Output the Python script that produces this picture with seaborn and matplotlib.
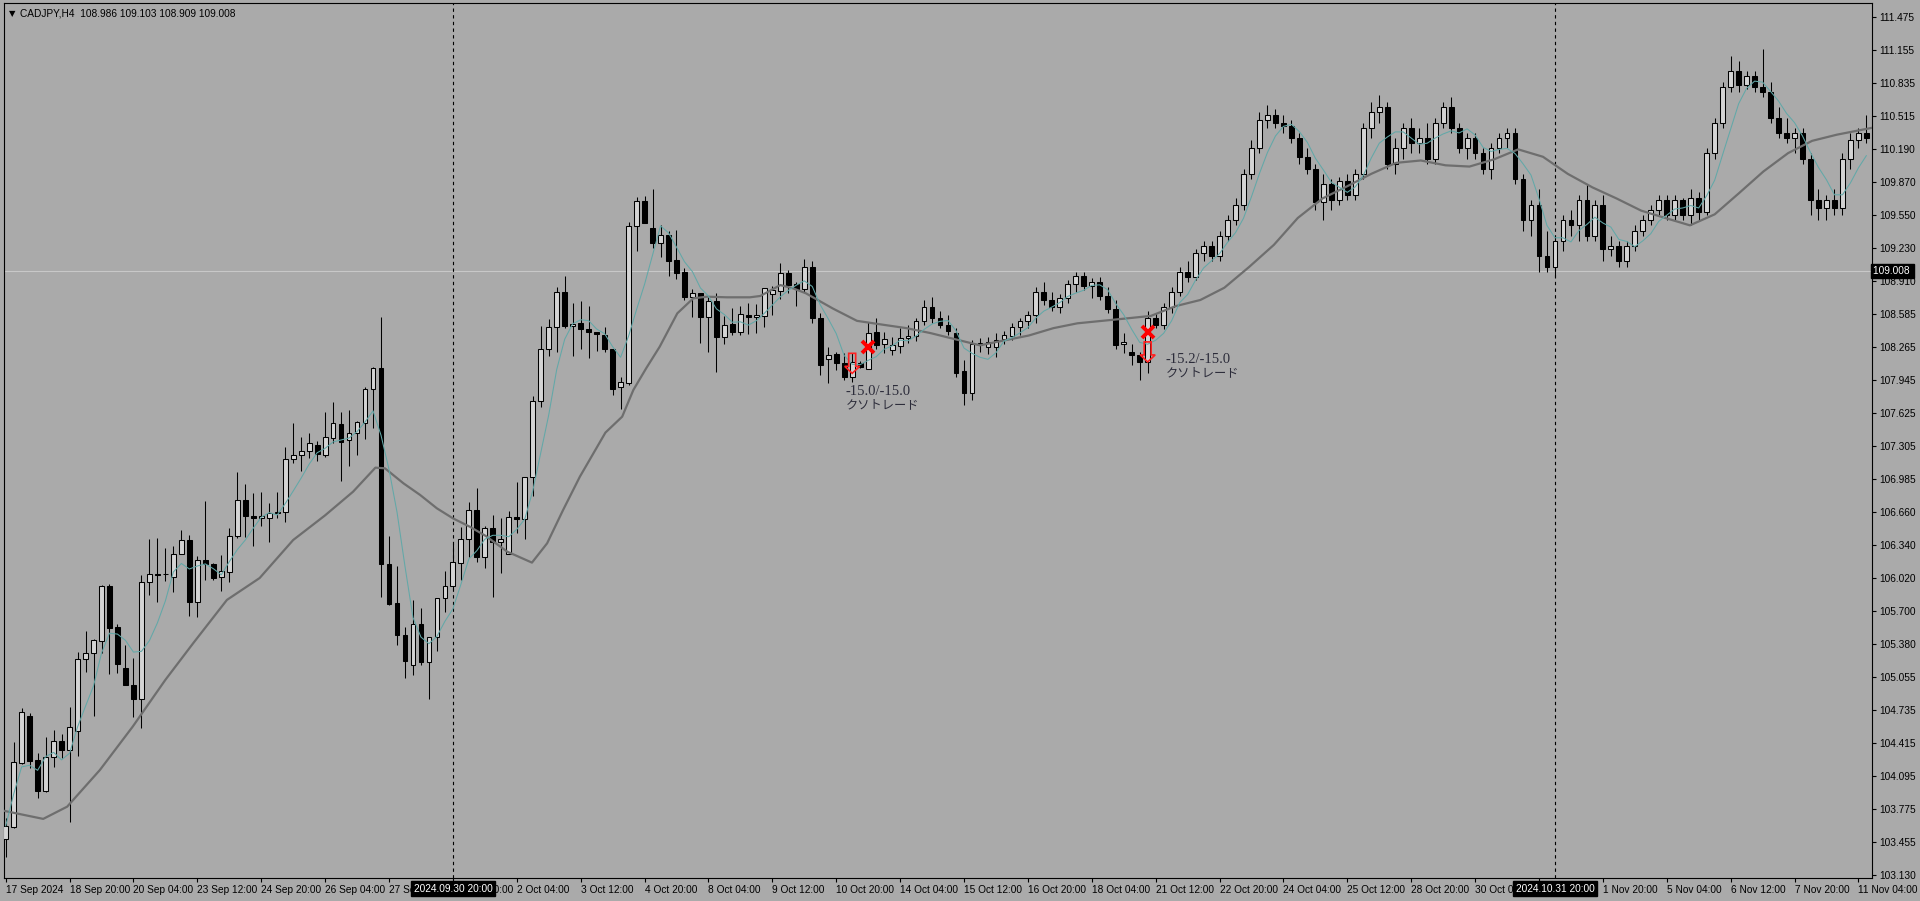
import matplotlib
matplotlib.use('Agg')
import matplotlib.pyplot as plt
import matplotlib.transforms as mtransforms
from matplotlib.patches import Polygon
import numpy as np
import pandas as pd
import seaborn as sns

# CADJPY H4 candles (bar 0 = 17 Sep 12:00)
opens = [
    103.479, 103.602, 104.224, 104.678, 104.250, 103.952, 104.276, 104.435, 104.348, 104.529,
    105.230, 105.288, 105.411, 105.943, 105.541, 105.142, 104.980, 104.841, 105.979, 106.060,
    106.060, 106.027, 106.257, 106.390, 105.790, 106.196, 106.157, 106.033, 106.083, 106.432,
    106.779, 106.627, 106.601, 106.601, 106.656, 106.666, 107.175, 107.214, 107.253, 107.311,
    107.214, 107.379, 107.516, 107.363, 107.428, 107.525, 107.862, 108.064, 106.160, 105.774,
    105.466, 105.174, 105.573, 105.200, 105.450, 105.823, 105.946, 106.163, 106.397, 106.682,
    106.228, 106.504, 106.368, 106.254, 106.617, 106.591, 107.000, 107.739, 108.245, 108.459,
    108.800, 108.472, 108.498, 108.440, 108.417, 108.385, 108.245, 107.875, 107.914, 109.445,
    109.688, 109.422, 109.276, 109.354, 109.114, 108.994, 108.757, 108.790, 108.563, 108.718,
    108.368, 108.488, 108.417, 108.579, 108.556, 108.569, 108.780, 108.815, 108.984, 108.880,
    108.830, 109.050, 108.550, 108.147, 108.200, 108.108, 107.979, 108.115, 108.050, 108.417,
    108.300, 108.238, 108.277, 108.352, 108.370, 108.520, 108.660, 108.550, 108.480, 108.407,
    108.037, 107.823, 108.310, 108.270, 108.270, 108.342, 108.374, 108.460, 108.520, 108.580,
    108.800, 108.720, 108.660, 108.740, 108.880, 108.960, 108.860, 108.900, 108.760, 108.640,
    108.294, 108.223, 108.190, 108.125, 108.550, 108.480, 108.660, 108.800, 109.000, 108.950,
    109.180, 109.250, 109.150, 109.350, 109.500, 109.650, 109.950, 110.200, 110.480, 110.520,
    110.450, 110.420, 110.300, 110.120, 110.000, 109.680, 109.850, 109.700, 109.880, 109.750,
    109.950, 110.400, 110.550, 110.600, 110.050, 110.200, 110.400, 110.250, 110.300, 110.100,
    110.450, 110.600, 110.400, 110.200, 110.300, 110.150, 110.000, 110.200, 110.300, 110.350,
    109.900, 109.500, 109.650, 109.150, 109.050, 109.300, 109.500, 109.450, 109.700, 109.350,
    109.650, 109.220, 109.250, 109.100, 109.250, 109.400, 109.500, 109.600, 109.700, 109.550,
    109.700, 109.550, 109.720, 109.580, 110.150, 110.450, 110.800, 110.950, 110.820, 110.900,
    110.800, 110.750, 110.500, 110.350, 110.300, 110.350, 110.100, 109.700, 109.620, 109.700,
    109.620, 110.100, 110.280, 110.350,
]
highs = [
    103.683, 104.429, 104.759, 104.711, 104.315, 104.471, 104.542, 104.500, 104.769, 105.304,
    105.505, 105.425, 105.953, 105.959, 105.573, 105.369, 105.239, 106.050, 106.400, 106.410,
    106.309, 106.332, 106.487, 106.439, 106.235, 106.773, 106.163, 106.244, 106.504, 107.055,
    106.935, 106.844, 106.857, 106.747, 106.857, 107.292, 107.525, 107.389, 107.428, 107.353,
    107.632, 107.730, 107.632, 107.655, 107.551, 107.875, 108.077, 108.563, 106.429, 106.137,
    105.547, 105.807, 105.726, 105.450, 105.823, 106.089, 106.348, 106.514, 106.757, 106.893,
    106.527, 106.634, 106.601, 106.676, 106.951, 107.000, 107.791, 108.472, 108.537, 108.848,
    108.958, 108.693, 108.715, 108.667, 108.417, 108.459, 108.245, 107.973, 109.480, 109.730,
    109.736, 109.801, 109.454, 109.399, 109.406, 109.033, 108.828, 108.790, 108.751, 108.790,
    108.569, 108.650, 108.666, 108.692, 108.683, 108.838, 108.861, 109.088, 109.017, 108.903,
    109.120, 109.100, 108.600, 108.271, 108.220, 108.210, 108.206, 108.130, 108.514, 108.550,
    108.416, 108.368, 108.449, 108.481, 108.550, 108.720, 108.750, 108.620, 108.580, 108.450,
    108.141, 108.335, 108.352, 108.360, 108.400, 108.420, 108.500, 108.550, 108.620, 108.850,
    108.900, 108.800, 108.780, 108.920, 109.000, 109.000, 108.940, 108.950, 108.850, 108.720,
    108.400, 108.300, 108.220, 108.620, 108.600, 108.700, 108.850, 109.050, 109.100, 109.220,
    109.300, 109.300, 109.400, 109.550, 109.720, 110.000, 110.280, 110.550, 110.620, 110.580,
    110.520, 110.480, 110.350, 110.200, 110.050, 109.950, 109.900, 109.920, 109.950, 110.000,
    110.450, 110.650, 110.720, 110.650, 110.300, 110.450, 110.500, 110.400, 110.450, 110.500,
    110.650, 110.700, 110.450, 110.350, 110.350, 110.200, 110.250, 110.350, 110.400, 110.400,
    109.950, 109.700, 109.800, 109.400, 109.350, 109.550, 109.600, 109.750, 109.850, 109.700,
    109.750, 109.350, 109.300, 109.300, 109.450, 109.550, 109.650, 109.750, 109.750, 109.750,
    109.720, 109.800, 109.780, 110.200, 110.500, 110.850, 111.100, 111.050, 110.950, 110.950,
    111.170, 110.850, 110.600, 110.500, 110.400, 110.400, 110.150, 109.800, 109.750, 109.800,
    110.150, 110.350, 110.400, 110.520,
]
lows = [
    103.307, 103.590, 104.212, 104.169, 103.877, 103.942, 104.185, 104.267, 103.651, 104.293,
    105.110, 104.678, 105.288, 105.087, 105.100, 104.980, 104.672, 104.558, 105.855, 105.791,
    105.995, 105.888, 106.254, 105.651, 105.644, 106.001, 106.001, 105.897, 105.985, 106.406,
    106.416, 106.335, 106.526, 106.374, 106.607, 106.568, 107.136, 107.065, 107.185, 107.162,
    107.201, 107.331, 106.968, 107.113, 107.217, 107.370, 107.477, 105.839, 105.755, 105.369,
    105.045, 105.077, 105.174, 104.840, 105.314, 105.693, 105.904, 106.001, 106.228, 106.180,
    106.115, 105.833, 106.066, 106.254, 106.455, 106.397, 106.818, 107.687, 108.183, 108.222,
    108.449, 108.183, 108.245, 108.158, 108.232, 108.216, 107.798, 107.661, 107.895, 109.205,
    109.470, 109.234, 109.146, 108.961, 108.926, 108.725, 108.556, 108.303, 108.216, 108.021,
    108.294, 108.384, 108.384, 108.391, 108.400, 108.465, 108.579, 108.734, 108.790, 108.666,
    108.800, 108.500, 108.000, 107.914, 108.040, 107.950, 107.930, 108.060, 108.050, 108.250,
    108.206, 108.190, 108.206, 108.303, 108.330, 108.480, 108.500, 108.450, 108.380, 107.980,
    107.703, 107.752, 108.222, 108.200, 108.173, 108.300, 108.340, 108.380, 108.450, 108.500,
    108.680, 108.620, 108.600, 108.700, 108.800, 108.820, 108.740, 108.720, 108.600, 108.250,
    108.206, 108.093, 107.947, 108.012, 108.450, 108.440, 108.600, 108.760, 108.900, 108.920,
    109.100, 109.100, 109.100, 109.300, 109.450, 109.600, 109.900, 110.150, 110.400, 110.400,
    110.350, 110.250, 110.050, 109.950, 109.600, 109.500, 109.600, 109.650, 109.700, 109.700,
    109.900, 110.300, 110.450, 110.000, 109.950, 110.100, 110.150, 110.150, 110.050, 110.050,
    110.400, 110.350, 110.150, 110.100, 110.100, 109.950, 109.900, 110.150, 110.200, 109.850,
    109.400, 109.350, 109.000, 109.000, 108.950, 109.200, 109.350, 109.300, 109.300, 109.300,
    109.100, 109.150, 109.050, 109.050, 109.200, 109.350, 109.450, 109.550, 109.500, 109.500,
    109.500, 109.450, 109.500, 109.550, 110.100, 110.400, 110.750, 110.750, 110.780, 110.750,
    110.700, 110.450, 110.300, 110.250, 110.150, 110.050, 109.550, 109.500, 109.500, 109.550,
    109.550, 110.000, 110.200, 110.250,
]
closes = [
    103.608, 104.228, 104.714, 104.244, 103.952, 104.276, 104.435, 104.348, 104.568, 105.230,
    105.288, 105.418, 105.943, 105.538, 105.187, 104.983, 104.847, 105.979, 106.060, 106.050,
    106.055, 106.254, 106.390, 105.790, 106.196, 106.157, 106.024, 106.089, 106.429, 106.779,
    106.627, 106.601, 106.620, 106.656, 106.665, 107.175, 107.214, 107.253, 107.330, 107.223,
    107.389, 107.525, 107.347, 107.428, 107.535, 107.859, 108.064, 106.160, 105.765, 105.466,
    105.217, 105.573, 105.207, 105.444, 105.823, 105.946, 106.180, 106.397, 106.682, 106.228,
    106.504, 106.368, 106.397, 106.611, 106.591, 107.000, 107.739, 108.245, 108.459, 108.800,
    108.472, 108.492, 108.440, 108.417, 108.391, 108.245, 107.862, 107.924, 109.445, 109.685,
    109.470, 109.276, 109.354, 109.107, 108.991, 108.757, 108.790, 108.563, 108.715, 108.368,
    108.478, 108.417, 108.585, 108.556, 108.579, 108.838, 108.822, 108.984, 108.871, 108.828,
    109.050, 108.550, 108.092, 108.190, 108.110, 107.979, 108.125, 108.075, 108.400, 108.287,
    108.342, 108.287, 108.352, 108.374, 108.520, 108.660, 108.550, 108.480, 108.420, 108.018,
    107.817, 108.297, 108.287, 108.319, 108.335, 108.384, 108.465, 108.520, 108.580, 108.800,
    108.720, 108.660, 108.740, 108.880, 108.960, 108.860, 108.900, 108.760, 108.640, 108.288,
    108.320, 108.190, 108.125, 108.550, 108.480, 108.660, 108.800, 109.000, 108.950, 109.180,
    109.250, 109.150, 109.350, 109.500, 109.650, 109.950, 110.200, 110.480, 110.520, 110.450,
    110.420, 110.300, 110.120, 110.000, 109.680, 109.850, 109.700, 109.880, 109.750, 109.950,
    110.400, 110.550, 110.600, 110.050, 110.200, 110.400, 110.250, 110.300, 110.100, 110.450,
    110.600, 110.400, 110.200, 110.300, 110.150, 110.000, 110.200, 110.300, 110.350, 109.900,
    109.500, 109.650, 109.150, 109.050, 109.300, 109.500, 109.450, 109.700, 109.350, 109.650,
    109.220, 109.250, 109.100, 109.250, 109.400, 109.500, 109.600, 109.700, 109.550, 109.700,
    109.550, 109.720, 109.580, 110.150, 110.450, 110.800, 110.950, 110.820, 110.900, 110.800,
    110.750, 110.500, 110.350, 110.300, 110.350, 110.100, 109.700, 109.620, 109.700, 109.620,
    110.100, 110.280, 110.350, 110.300,
]

# slow moving average (grey line), read at bar positions
ma_slow_bar = [
    -0.3, 4.7, 7.7, 11.8, 15.9, 20.0, 23.5, 27.7, 31.8, 36.0, 40.0, 43.5, 46.3, 47.5,
    49.8, 51.9, 54.0, 56.0, 58.1, 60.1, 62.8, 65.9, 67.8, 69.8, 71.9, 75.1, 77.2, 78.6,
    80.2, 81.9, 84.1, 86.1, 87.8, 90.3, 93.2, 94.5, 97.0, 98.6, 100.2, 103.6, 106.6,
    109.7, 112.8, 115.8, 118.9, 122.0, 125.0, 128.1, 131.2, 134.2, 137.3, 140.4, 143.4,
    146.5, 149.6, 152.6, 155.7, 158.8, 161.8, 164.9, 168.0, 171.0, 174.1, 177.2, 180.3,
    183.3, 186.4, 189.4, 192.5, 195.6, 198.7, 201.7, 204.8, 207.8, 210.9, 214.0, 217.0,
    220.1, 223.2, 226.2, 229.3, 233.7,
]
ma_slow_val = [
    103.757, 103.677, 103.796, 104.153, 104.574, 105.030, 105.388, 105.807, 106.020, 106.390,
    106.630, 106.860, 107.094, 107.087, 106.942, 106.828, 106.698, 106.601, 106.520, 106.430,
    106.277, 106.170, 106.358, 106.682, 107.006, 107.435, 107.590, 107.850, 108.060, 108.271,
    108.595, 108.741, 108.757, 108.751, 108.751, 108.764, 108.870, 108.838, 108.790, 108.641,
    108.522, 108.486, 108.451, 108.403, 108.343, 108.284, 108.331, 108.379, 108.451, 108.498,
    108.522, 108.546, 108.570, 108.665, 108.725, 108.844, 109.046, 109.261, 109.523, 109.713,
    109.832, 109.952, 110.059, 110.082, 110.035, 110.023, 110.094, 110.190, 110.118, 109.952,
    109.820, 109.713, 109.594, 109.523, 109.451, 109.558, 109.761, 109.975, 110.154, 110.273,
    110.333, 110.400,
]

date_labels = [
    '17 Sep 2024', '18 Sep 20:00', '20 Sep 04:00', '23 Sep 12:00', '24 Sep 20:00',
    '26 Sep 04:00', '27 Sep 12:00', '30 Sep 20:00', '2 Oct 04:00', '3 Oct 12:00',
    '4 Oct 20:00', '8 Oct 04:00', '9 Oct 12:00', '10 Oct 20:00', '14 Oct 04:00',
    '15 Oct 12:00', '16 Oct 20:00', '18 Oct 04:00', '21 Oct 12:00', '22 Oct 20:00',
    '24 Oct 04:00', '25 Oct 12:00', '28 Oct 20:00', '30 Oct 04:00', '31 Oct 12:00',
    '1 Nov 20:00', '5 Nov 04:00', '6 Nov 12:00', '7 Nov 20:00', '11 Nov 04:00',
]
price_ticks = [
    111.475, 111.155, 110.835, 110.515, 110.190, 109.870, 109.550, 109.230, 108.910,
    108.585, 108.265, 107.945, 107.625, 107.305, 106.985, 106.660, 106.340, 106.020,
    105.700, 105.380, 105.055, 104.735, 104.415, 104.095, 103.775, 103.455, 103.130,
]

# trades: sell arrow (entry) and red cross (exit), with result text
trade_entry_bar = [106, 143]
trade_entry_price = [108.206, 108.317]
trade_exit_bar = [108, 143]
trade_exit_price = [108.270, 108.417]
trade_result = ['-15.0/-15.0', '-15.2/-15.0']
trade_note = ['クソトレード', 'クソトレード']
trade_text_bar = [105.1, 145.2]
trade_text_price = [107.898, 108.211]

vline_bars = [56, 194]
vline_labels = ['2024.09.30 20:00', '2024.10.31 20:00']
bid_price = 109.008
header = 'CADJPY,H4  108.986 109.103 108.909 109.008'

sns.set_theme(style='white')
plt.rcParams['font.family'] = ['Liberation Sans', 'DejaVu Sans', 'Noto Sans CJK JP']

bg = '#aaaaaa'
W, H = 1920, 901
fig = plt.figure(figsize=(W / 100, H / 100), dpi=100, facecolor=bg)
ax = fig.add_axes([4 / W, 23 / H, 1868 / W, 875 / H], facecolor=bg)

df = pd.DataFrame({'open': opens, 'high': highs, 'low': lows, 'close': closes})
df['bar'] = np.arange(len(df))
df['ma_fast'] = df['close'].rolling(5, min_periods=1).mean()
up = df['close'] >= df['open']

# candles
ax.vlines(df['bar'], df['low'], df['high'], color='black', lw=0.75, zorder=2)
body_lo = df[['open', 'close']].min(axis=1)
body_h = (df['close'] - df['open']).abs()
ax.bar(df['bar'][up], body_h[up], bottom=body_lo[up], width=0.6,
       color='#d4d4d4', edgecolor='black', linewidth=0.75, zorder=3)
ax.bar(df['bar'][~up], body_h[~up], bottom=body_lo[~up], width=0.6,
       color='black', edgecolor='black', linewidth=0.75, zorder=3)

# moving averages
sns.lineplot(x=ma_slow_bar, y=ma_slow_val, color='#6e6e6e', lw=1.6, ax=ax, zorder=4)
sns.lineplot(data=df, x='bar', y='ma_fast', color='#62a8a8', lw=0.75, ax=ax, zorder=4)

ax.axhline(bid_price, color='#c8c8c8', lw=0.8, zorder=1)

xlo, xhi = -0.21, 233.7
ylo, yhi = 103.102, 111.614
ax.set_xlim(xlo, xhi)
ax.set_ylim(ylo, yhi)
px_x = 1868 / (xhi - xlo)
px_y = 875 / (yhi - ylo)

# trades
for eb, ep, xb, xp, res, note, tb, tp in zip(trade_entry_bar, trade_entry_price,
                                            trade_exit_bar, trade_exit_price,
                                            trade_result, trade_note,
                                            trade_text_bar, trade_text_price):
    sw, hw = 3.5 / px_x, 7.5 / px_x
    base = ep - 13 / px_y
    tip = ep - 20 / px_y
    arrow = Polygon([(eb - sw, ep), (eb + sw, ep), (eb + sw, base), (eb + hw, base),
                     (eb, tip), (eb - hw, base), (eb - sw, base)],
                    closed=True, fill=False, edgecolor='#ff2020', lw=1.2, zorder=6)
    ax.add_patch(arrow)
    ax.plot([xb], [xp], marker='x', color='#ff0000', ms=8, mew=2.8, zorder=7)
    ax.text(tb, tp, res, fontsize=10.5, color='#2c2c3a', va='top', ha='left',
            family=['Liberation Serif', 'Noto Sans CJK JP'], zorder=7)
    ax.text(tb + 0.1, tp - 13 / px_y, note, fontsize=8.8, color='#2c2c3a', va='top',
            ha='left', family=['Noto Sans CJK JP', 'DejaVu Sans'], zorder=7)

# axes, ticks
for s in ax.spines.values():
    s.set_color('black')
    s.set_linewidth(0.8)
ax.yaxis.tick_right()
ax.set_yticks(price_ticks)
ax.set_yticklabels([f'{v:.3f}' for v in price_ticks])
ax.set_xticks(np.arange(len(date_labels)) * 8)
ax.set_xticklabels(date_labels, ha='left')
ax.tick_params(axis='y', direction='out', length=3, width=0.8, pad=2,
               labelsize=7.3, colors='black', right=True, left=False)
ax.tick_params(axis='x', direction='out', length=3, width=0.8, pad=2,
               labelsize=7.3, colors='black', bottom=True)
ax.set_xlabel('')
ax.set_ylabel('')
ax.grid(False)

# vertical lines with date boxes
blend = mtransforms.blended_transform_factory(ax.transData, ax.transAxes)
for vb, vl in zip(vline_bars, vline_labels):
    ax.axvline(vb, color='black', lw=0.8, ls=(0, (3, 3)), zorder=1)
    ax.text(vb, -0.0125, vl, transform=blend, ha='center', va='center', fontsize=7.3,
            color='white', zorder=10, clip_on=False,
            bbox=dict(boxstyle='square,pad=0.25', fc='black', ec='black'))

# current bid label on the price axis
blend_y = mtransforms.blended_transform_factory(ax.transAxes, ax.transData)
ax.text(1.0005, bid_price, '109.008 ', transform=blend_y, ha='left', va='center',
        fontsize=7.3, color='white', clip_on=False, zorder=10,
        bbox=dict(boxstyle='square,pad=0.2', fc='black', ec='black'))

fig.text(9 / W, 1 - 14 / H, '▼', fontsize=6, color='black', va='center', family='DejaVu Sans')
fig.text(20 / W, 1 - 14 / H, header, fontsize=7.3, color='black', va='center')

fig.savefig('out.png', dpi=100, facecolor=bg)
